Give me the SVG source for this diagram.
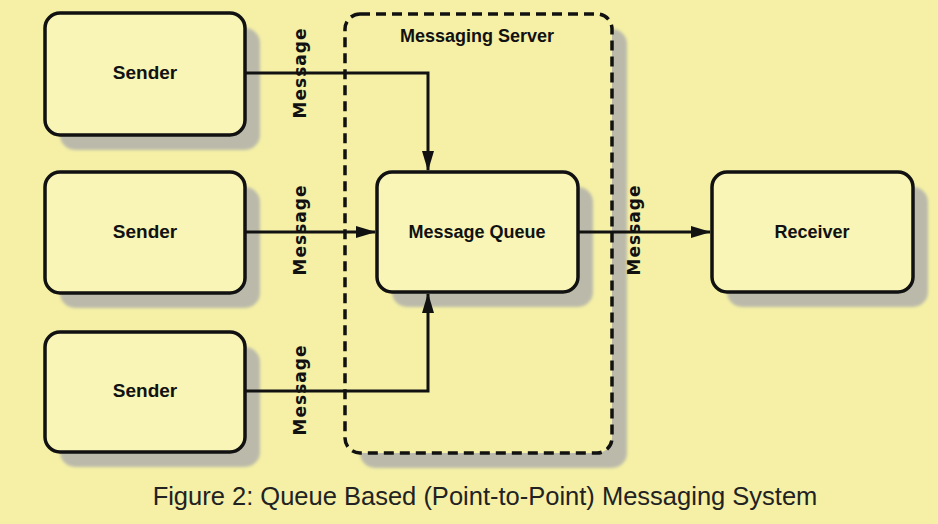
<svg xmlns="http://www.w3.org/2000/svg" width="938" height="524" viewBox="0 0 938 524">
<defs>
<style>
.bg{fill:#F5F0A6}
.shadow{fill:#BBBAAA}
.box{fill:#F8F5B6;stroke:#111;stroke-width:3.5}
.lbl{font-family:"Liberation Sans",Arial,sans-serif;font-weight:bold;font-size:18px;fill:#111;text-anchor:middle}
.msg{font-family:"DejaVu Sans",Verdana,sans-serif;font-weight:bold;font-size:17px;letter-spacing:1px;fill:#111;text-anchor:middle}
.line{fill:none;stroke:#111;stroke-width:3}
</style>
<filter id="blur" x="-10%" y="-10%" width="120%" height="120%"><feGaussianBlur stdDeviation="1.5"/></filter>
<marker id="arr" viewBox="0 0 20 12" refX="19" refY="6" markerWidth="20" markerHeight="12" markerUnits="userSpaceOnUse" orient="auto">
<path d="M0,0 L20,6 L0,12 Z" fill="#111"/>
</marker>
</defs>
<rect class="bg" x="0" y="0" width="938" height="524"/>

<g id="server">
<rect class="shadow" filter="url(#blur)" x="360" y="29" width="267" height="439" rx="15"/>
<rect x="345" y="14" width="267" height="439" rx="15" fill="#F5F0A6" stroke="#111" stroke-width="3.5" stroke-dasharray="10 6"/>
<text class="lbl" x="477" y="42" style="font-size:18px">Messaging Server</text>
</g>

<g id="sender1">
<rect class="shadow" filter="url(#blur)" x="60" y="28" width="200" height="122" rx="15"/>
<rect class="box" x="45" y="13" width="200" height="122" rx="15"/>
<text class="lbl" x="145" y="79" style="font-size:19px">Sender</text>
</g>
<g id="sender2">
<rect class="shadow" filter="url(#blur)" x="60" y="187" width="200" height="121" rx="15"/>
<rect class="box" x="45" y="172" width="200" height="121" rx="15"/>
<text class="lbl" x="145" y="238" style="font-size:19px">Sender</text>
</g>
<g id="sender3">
<rect class="shadow" filter="url(#blur)" x="60" y="347" width="200" height="120" rx="15"/>
<rect class="box" x="45" y="332" width="200" height="120" rx="15"/>
<text class="lbl" x="145" y="397" style="font-size:19px">Sender</text>
</g>
<g id="queue">
<rect class="shadow" filter="url(#blur)" x="392" y="187" width="201" height="120" rx="15"/>
<rect class="box" x="377" y="172" width="201" height="120" rx="15"/>
<text class="lbl" x="477" y="238">Message Queue</text>
</g>
<g id="receiver">
<rect class="shadow" filter="url(#blur)" x="727" y="187" width="201" height="120" rx="15"/>
<rect class="box" x="712" y="172" width="201" height="120" rx="15"/>
<text class="lbl" x="812" y="238">Receiver</text>
</g>

<g id="connectors">
<path class="line" d="M245,73 H428 V170" marker-end="url(#arr)"/>
<path class="line" d="M245,232 H375" marker-end="url(#arr)"/>
<path class="line" d="M245,391 H428 V294" marker-end="url(#arr)"/>
<path class="line" d="M578,232 H710" marker-end="url(#arr)"/>
<text class="msg" transform="translate(306,73) rotate(-90)">Message</text>
<text class="msg" transform="translate(306,230) rotate(-90)">Message</text>
<text class="msg" transform="translate(306,390) rotate(-90)">Message</text>
<text class="msg" transform="translate(640,230) rotate(-90)">Message</text>
</g>

<text x="485" y="505" font-family="'Liberation Sans',Arial,sans-serif" font-size="25.5" fill="#222" text-anchor="middle">Figure 2: Queue Based (Point-to-Point) Messaging System</text>
</svg>
